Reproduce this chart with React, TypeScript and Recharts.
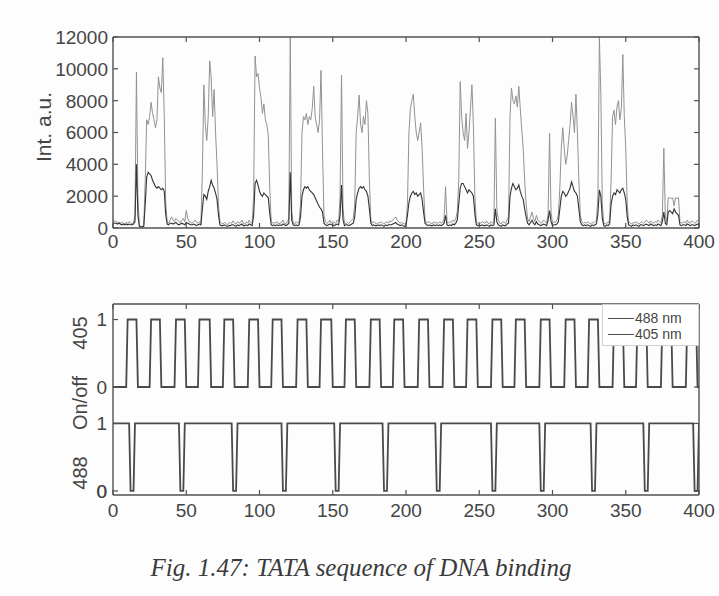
import React from 'react';
import { LineChart, Line, XAxis, YAxis, ReferenceLine } from 'recharts';

// ---------- Data ----------
// Upper panel: fluorescence intensity per frame (frames 0..400)
const intensityLight = [
  500, 450, 400, 350, 400, 300, 350, 300, 250, 350,
  300, 400, 350, 250, 300, 800, 9800, 2000, 150, 100,
  100, 150, 3000, 6800, 6500, 7000, 7900, 7200, 6800, 6300,
  6800, 9500, 8800, 8500, 10700, 7000, 1500, 400, 300, 500,
  700, 500, 400, 600, 500, 400, 350, 500, 600, 400,
  1100, 600, 400, 350, 300, 400, 500, 350, 300, 400,
  300, 3500, 9000, 6500, 5500, 7000, 10500, 9500, 7000, 8700,
  6000, 4000, 1500, 400, 300, 250, 350, 300, 200, 300,
  350, 300, 450, 300, 250, 400, 300, 350, 500, 300,
  250, 400, 300, 500, 350, 300, 2000, 10800, 9500, 9700,
  8800, 8200, 7200, 7800, 6800, 6500, 5800, 2500, 400, 300,
  350, 300, 400, 250, 300, 350, 500, 300, 250, 400,
  600, 12000, 1000, 300, 250, 400, 300, 350, 1500, 6000,
  7000, 6800, 7200, 6500, 7000, 6800, 7500, 8900, 7000, 6500,
  6000, 6800, 9900, 5000, 800, 400, 300, 350, 500, 300,
  400, 350, 300, 500, 400, 2000, 9600, 1200, 300, 250,
  350, 300, 400, 500, 600, 1500, 6000, 7000, 8350, 6500,
  6000, 7000, 6500, 8000, 7200, 3000, 500, 300, 400, 300,
  250, 350, 300, 400, 300, 250, 350, 400, 300, 450,
  400, 500, 600, 700, 500, 400, 300, 350, 300, 250,
  300, 1500, 6000, 7500, 8000, 8400, 7000, 6000, 5500, 6000,
  6600, 5000, 2500, 500, 300, 400, 350, 300, 250, 400,
  300, 350, 300, 400, 300, 350, 600, 2600, 400, 300,
  400, 350, 500, 400, 600, 1000, 3000, 9200, 7000, 6000,
  5500, 7200, 5000, 6000, 7500, 9000, 6500, 2000, 400, 300,
  350, 300, 400, 350, 300, 450, 300, 250, 400, 300,
  350, 6900, 1200, 500, 300, 250, 400, 350, 300, 500,
  700, 7000, 8800, 8000, 7800, 8300, 7600, 8900, 7500, 6200,
  5000, 3000, 1500, 600, 400, 700, 1000, 600, 400, 800,
  500, 400, 300, 350, 500, 400, 300, 900, 5950, 1000,
  300, 400, 350, 500, 800, 2500, 5000, 6300, 5000, 4000,
  4500, 5500, 6500, 7900, 7000, 6000, 8400, 6000, 3000, 800,
  400, 300, 350, 300, 400, 300, 250, 350, 300, 400,
  500, 2000, 12000, 8400, 1500, 300, 250, 350, 300, 500,
  3000, 7000, 7400, 6500, 7600, 8000, 6800, 7500, 10900, 7000,
  5000, 1500, 400, 300, 250, 350, 300, 400, 300, 250,
  350, 400, 300, 350, 500, 400, 300, 450, 350, 300,
  400, 350, 500, 400, 300, 800, 5000, 800, 400, 1900,
  1900, 1850, 1900, 1400, 1900, 1850, 1900, 400, 300, 350,
  400, 300, 500, 350, 300, 450, 400, 300, 350, 500, 400,
];

const intensityDark = [
  350, 300, 300, 250, 300, 250, 200, 250, 200, 250,
  200, 250, 200, 200, 250, 400, 4000, 800, 100, 80,
  80, 100, 1500, 3200, 3500, 3400, 3300, 3000, 2800, 2600,
  2500, 2600, 2500, 2400, 2500, 2300, 800, 250, 200, 300,
  300, 250, 300, 350, 250, 200, 250, 300, 250, 200,
  350, 300, 250, 200, 200, 250, 200, 150, 200, 250,
  200, 1200, 2100, 2000, 1800, 2300, 2600, 3000, 2700, 2500,
  2200, 1800, 800, 200, 150, 150, 200, 150, 100, 150,
  150, 200, 200, 150, 100, 200, 150, 200, 250, 150,
  150, 200, 150, 250, 200, 150, 800, 2800, 3000, 2700,
  2300, 2100, 2000, 2200, 2100, 2000, 1900, 900, 200, 150,
  200, 150, 200, 150, 200, 150, 250, 200, 150, 200,
  300, 3500, 500, 200, 150, 200, 150, 200, 700, 2000,
  2400, 2600, 2500, 2600, 2400, 2300, 2200, 2100, 1900, 1700,
  1500, 1300, 1200, 1000, 300, 200, 150, 200, 250, 200,
  200, 150, 200, 250, 200, 800, 2700, 500, 150, 200,
  200, 150, 200, 250, 300, 700, 1800, 2200, 2500, 2600,
  2500, 2600, 2400, 2300, 2000, 1200, 300, 150, 200, 150,
  150, 200, 150, 200, 150, 100, 200, 150, 200, 200,
  200, 250, 300, 350, 250, 200, 150, 200, 150, 100,
  150, 800, 1600, 2000, 2200, 2300, 2100, 2200, 2000, 2100,
  2200, 1800, 1000, 300, 200, 150, 200, 150, 150, 200,
  150, 200, 150, 200, 150, 200, 300, 800, 200, 150,
  200, 150, 250, 200, 300, 500, 1500, 2500, 2800, 2800,
  2600, 2400, 2200, 2400, 2300, 2200, 2000, 900, 200, 150,
  200, 150, 200, 150, 150, 200, 150, 100, 200, 150,
  200, 1200, 400, 200, 150, 100, 200, 150, 150, 250,
  300, 2000, 2500, 2800, 2600, 2400, 2500, 2700, 2300, 2000,
  1800, 1200, 700, 300, 200, 350, 500, 300, 200, 400,
  250, 200, 150, 200, 250, 200, 150, 500, 1100, 400,
  150, 200, 200, 250, 400, 1200, 2000, 2300, 2200, 2000,
  2100, 2300, 2500, 2900, 2600, 2300, 2200, 2000, 1200, 400,
  200, 150, 200, 150, 200, 150, 100, 200, 150, 200,
  250, 900, 2400, 2000, 600, 150, 100, 200, 150, 250,
  1500, 2000, 2200, 2100, 2400, 2300, 2200, 2400, 2500, 2200,
  1800, 700, 200, 150, 100, 200, 150, 200, 150, 100,
  200, 200, 150, 200, 250, 200, 150, 250, 200, 150,
  200, 150, 250, 200, 150, 400, 1000, 300, 200, 1000,
  1100, 1000, 900, 1200, 1000, 900, 800, 200, 150, 200,
  200, 150, 250, 200, 150, 200, 200, 150, 200, 250, 200,
];

const frameTicks = [0, 50, 100, 150, 200, 250, 300, 350, 400];
const intensityTicks = [0, 2000, 4000, 6000, 8000, 10000, 12000];

// Lower panel: laser on/off switching frames
const laser405On = [9, 25, 42, 58, 75, 92, 108, 125, 141, 158, 175, 191, 208, 225, 241, 258, 274, 291, 308, 324, 341, 357, 374, 391];
const laser405Off = [16, 32, 49, 66, 82, 99, 115, 132, 149, 165, 182, 198, 215, 232, 248, 265, 281, 298, 315, 331, 348, 364, 381, 398];
const laser488Off = [11, 45, 81, 115, 151, 184, 220, 258, 291, 326, 362, 396];
const laser488On = [15, 49, 85, 119, 155, 188, 224, 262, 295, 330, 366, 400];
const legendNames = ['488 nm', '405 nm'];

// ---------- Styling / layout of the shared on/off panel ----------
const FONT = '"Liberation Sans", Arial, Helvetica, sans-serif';
const AXIS = '#505050';
const TEXT = '#454545';
const BASE_488 = 0.06; // lower trace baseline inside the shared panel
const BASE_405 = 1.6; // upper trace baseline inside the shared panel
const ONOFF_DOMAIN: [number, number] = [0, 2.83];
const onOffTicks = [BASE_488, BASE_488 + 1, BASE_405, BASE_405 + 1];
const onOffLabel = (v: number) => String(Math.round(v > 1.3 ? v - BASE_405 : v - BASE_488));

const traceData = intensityLight.map((v, i) => ({ frame: i, light: v, dark: intensityDark[i] }));

const trace405: { x: number; y: number }[] = [{ x: 0, y: BASE_405 }];
laser405On.forEach((on, i) => {
  const off = laser405Off[i];
  trace405.push({ x: on, y: BASE_405 }, { x: on + 1, y: BASE_405 + 1 }, { x: off, y: BASE_405 + 1 }, { x: off + 1, y: BASE_405 });
});
trace405.push({ x: 400, y: BASE_405 });

const trace488: { x: number; y: number }[] = [{ x: 0, y: BASE_488 + 1 }];
laser488Off.forEach((off, i) => {
  const on = laser488On[i];
  trace488.push({ x: off, y: BASE_488 + 1 }, { x: off + 1, y: BASE_488 }, { x: on - 1, y: BASE_488 }, { x: on, y: BASE_488 + 1 });
});
if (trace488[trace488.length - 1].x < 400) trace488.push({ x: 400, y: BASE_488 + 1 });

// ---------- Custom ticks (MATLAB-style inward ticks) ----------
const BottomTick = (props: any) => {
  const { x, y, payload, gap } = props;
  const ay = y - gap;
  return (
    <g>
      <line x1={x} y1={ay} x2={x} y2={ay - 5} stroke={AXIS} strokeWidth={1.2} />
      <text x={x} y={y} dy="0.78em" textAnchor="middle" fill={TEXT} fontSize={19} fontFamily={FONT}>
        {payload.value}
      </text>
    </g>
  );
};

const TopTick = (props: any) => {
  const { x, y } = props;
  return <line x1={x} y1={y} x2={x} y2={y + 5} stroke={AXIS} strokeWidth={1.2} />;
};

const LeftTick = (props: any) => {
  const { x, y, payload, gap, format } = props;
  const ax = x + gap;
  const label = format ? format(payload.value) : String(payload.value);
  return (
    <g>
      <line x1={ax} y1={y} x2={ax + 5} y2={y} stroke={AXIS} strokeWidth={1.2} />
      <text x={x} y={y} dy="0.36em" textAnchor="end" fill={TEXT} fontSize={19} fontFamily={FONT}>
        {label}
      </text>
    </g>
  );
};

const RightTick = (props: any) => {
  const { x, y } = props;
  return <line x1={x} y1={y} x2={x - 5} y2={y} stroke={AXIS} strokeWidth={1.2} />;
};

const TopYLabel = () => (
  <text x={43} y={127} transform="rotate(-90 43 127)" textAnchor="middle" dominantBaseline="central" fill={TEXT} fontSize={21} fontFamily={FONT}>
    Int. a.u.
  </text>
);

// Axis title of the on/off panel; also carries the lowest tick label, placed from the axis box
const BottomYLabel = (props: any) => {
  const vb = props.viewBox || {};
  const top = typeof vb.y === 'number' ? vb.y : 34;
  const h = typeof vb.height === 'number' && vb.height > 0 ? vb.height : 191;
  const right = typeof vb.x === 'number' && typeof vb.width === 'number' ? vb.x + vb.width : 113;
  const yLow = top + h * (1 - (BASE_488 - ONOFF_DOMAIN[0]) / (ONOFF_DOMAIN[1] - ONOFF_DOMAIN[0]));
  return (
    <g fill={TEXT} fontFamily={FONT}>
      <text x={80} y={63} fontSize={20} transform="rotate(-90 80 63)" textAnchor="middle" dominantBaseline="central">405</text>
      <text x={80} y={133} fontSize={20} transform="rotate(-90 80 133)" textAnchor="middle" dominantBaseline="central">On/off</text>
      <text x={80} y={203} fontSize={20} transform="rotate(-90 80 203)" textAnchor="middle" dominantBaseline="central">488</text>
      <text x={right - 6} y={yLow} dy="0.36em" fontSize={19} textAnchor="end">{onOffLabel(BASE_488)}</text>
    </g>
  );
};

const LegendBox = () => (
  <div
    style={{
      position: 'absolute',
      left: 602,
      top: 304,
      background: '#ffffff',
      border: '1px solid #cfcfcf',
      width: 97,
      height: 42,
      boxSizing: 'border-box',
      overflow: 'hidden',
      fontFamily: FONT,
      fontSize: 14,
      color: TEXT,
    }}
  >
    {legendNames.map((name, i) => (
      <div
        key={name}
        style={{ position: 'absolute', left: 5, top: 6 + i * 16, height: 14, display: 'flex', alignItems: 'center', whiteSpace: 'nowrap' }}
      >
        <span style={{ display: 'inline-block', width: 26, borderTop: '1.8px solid #505050', marginRight: 1 }} />
        <span style={{ lineHeight: '14px' }}>{name}</span>
      </div>
    ))}
  </div>
);

const axisLineStyle = { stroke: AXIS, strokeWidth: 1.4 };
const ONOFF_TOP = ONOFF_DOMAIN[1];
const TOP_TICK_LEN = 0.075; // inward tick length in panel units (about 5 px)
const RIGHT_TICK_LEN = 3.4; // inward tick length in frames (about 5 px)

export default function App() {
  return (
    <div style={{ position: 'absolute', left: 0, top: 0, width: 719, height: 596, background: '#fdfdfd', overflow: 'hidden' }}>
      <div style={{ position: 'absolute', left: 0, top: 0 }}>
        <LineChart width={719} height={262} data={traceData} margin={{ top: 36, right: 0, bottom: 0, left: 0 }}>
          <XAxis
            dataKey="frame"
            type="number"
            domain={[0, 400]}
            ticks={frameTicks}
            interval={0}
            allowDataOverflow
            height={34}
            tickSize={0}
            tickMargin={5}
            tickLine={false}
            axisLine={axisLineStyle}
            tick={<BottomTick gap={5} />}
          />
          <XAxis
            xAxisId="top"
            orientation="top"
            type="number"
            domain={[0, 400]}
            ticks={frameTicks}
            interval={0}
            allowDataOverflow
            height={1}
            tickSize={0}
            tickMargin={0}
            tickLine={false}
            axisLine={axisLineStyle}
            tick={<TopTick />}
          />
          <YAxis
            type="number"
            domain={[0, 12000]}
            ticks={intensityTicks}
            interval={0}
            allowDataOverflow
            width={113}
            tickSize={0}
            tickMargin={5}
            tickLine={false}
            axisLine={axisLineStyle}
            tick={<LeftTick gap={5} />}
            label={<TopYLabel />}
          />
          <YAxis
            yAxisId="right"
            orientation="right"
            type="number"
            domain={[0, 12000]}
            ticks={intensityTicks}
            interval={0}
            allowDataOverflow
            width={20}
            tickSize={0}
            tickMargin={0}
            tickLine={false}
            axisLine={axisLineStyle}
            tick={<RightTick />}
          />
          <Line dataKey="light" stroke="#929292" strokeWidth={1} dot={false} isAnimationActive={false} />
          <Line dataKey="dark" stroke="#333333" strokeWidth={1.1} dot={false} isAnimationActive={false} />
        </LineChart>
      </div>

      <div style={{ position: 'absolute', left: 0, top: 270 }}>
        <LineChart width={719} height={262} margin={{ top: 34, right: 20, bottom: 0, left: 0 }}>
          <XAxis
            dataKey="x"
            type="number"
            domain={[0, 400]}
            ticks={frameTicks}
            interval={0}
            allowDataOverflow
            height={37}
            tickSize={0}
            tickMargin={7}
            tickLine={false}
            axisLine={axisLineStyle}
            tick={<BottomTick gap={7} />}
          />
          <YAxis
            type="number"
            domain={ONOFF_DOMAIN}
            ticks={onOffTicks}
            interval={0}
            allowDataOverflow
            width={113}
            tickSize={0}
            tickMargin={6}
            tickLine={false}
            axisLine={axisLineStyle}
            tick={<LeftTick gap={6} format={onOffLabel} />}
            label={<BottomYLabel />}
          />
          {/* frame: top and right edges with inward ticks */}
          <ReferenceLine y={ONOFF_TOP} stroke={AXIS} strokeWidth={1.4} ifOverflow="visible" />
          <ReferenceLine x={400} stroke={AXIS} strokeWidth={1.4} ifOverflow="visible" />
          {frameTicks.map((t) => (
            <ReferenceLine
              key={`tt-${t}`}
              segment={[{ x: t, y: ONOFF_TOP }, { x: t, y: ONOFF_TOP - TOP_TICK_LEN }]}
              stroke={AXIS}
              strokeWidth={1.2}
              ifOverflow="visible"
            />
          ))}
          {onOffTicks.map((v) => (
            <ReferenceLine
              key={`rt-${v}`}
              segment={[{ x: 400, y: v }, { x: 400 - RIGHT_TICK_LEN, y: v }]}
              stroke={AXIS}
              strokeWidth={1.2}
              ifOverflow="visible"
            />
          ))}
          <Line data={trace488} dataKey="y" name={legendNames[0]} type="linear" stroke="#4a4a4a" strokeWidth={1.8} dot={false} isAnimationActive={false} />
          <Line data={trace405} dataKey="y" name={legendNames[1]} type="linear" stroke="#4a4a4a" strokeWidth={1.8} dot={false} isAnimationActive={false} />
        </LineChart>
      </div>

      <LegendBox />

      <div
        style={{
          position: 'absolute',
          left: 0,
          top: 555,
          width: 719,
          paddingLeft: 3,
          boxSizing: 'border-box',
          textAlign: 'center',
          fontFamily: '"Liberation Serif", "Times New Roman", serif',
          fontStyle: 'italic',
          fontSize: 25,
          lineHeight: '25px',
          color: '#3a3a3a',
        }}
      >
        Fig. 1.47: TATA sequence of DNA binding
      </div>
    </div>
  );
}
